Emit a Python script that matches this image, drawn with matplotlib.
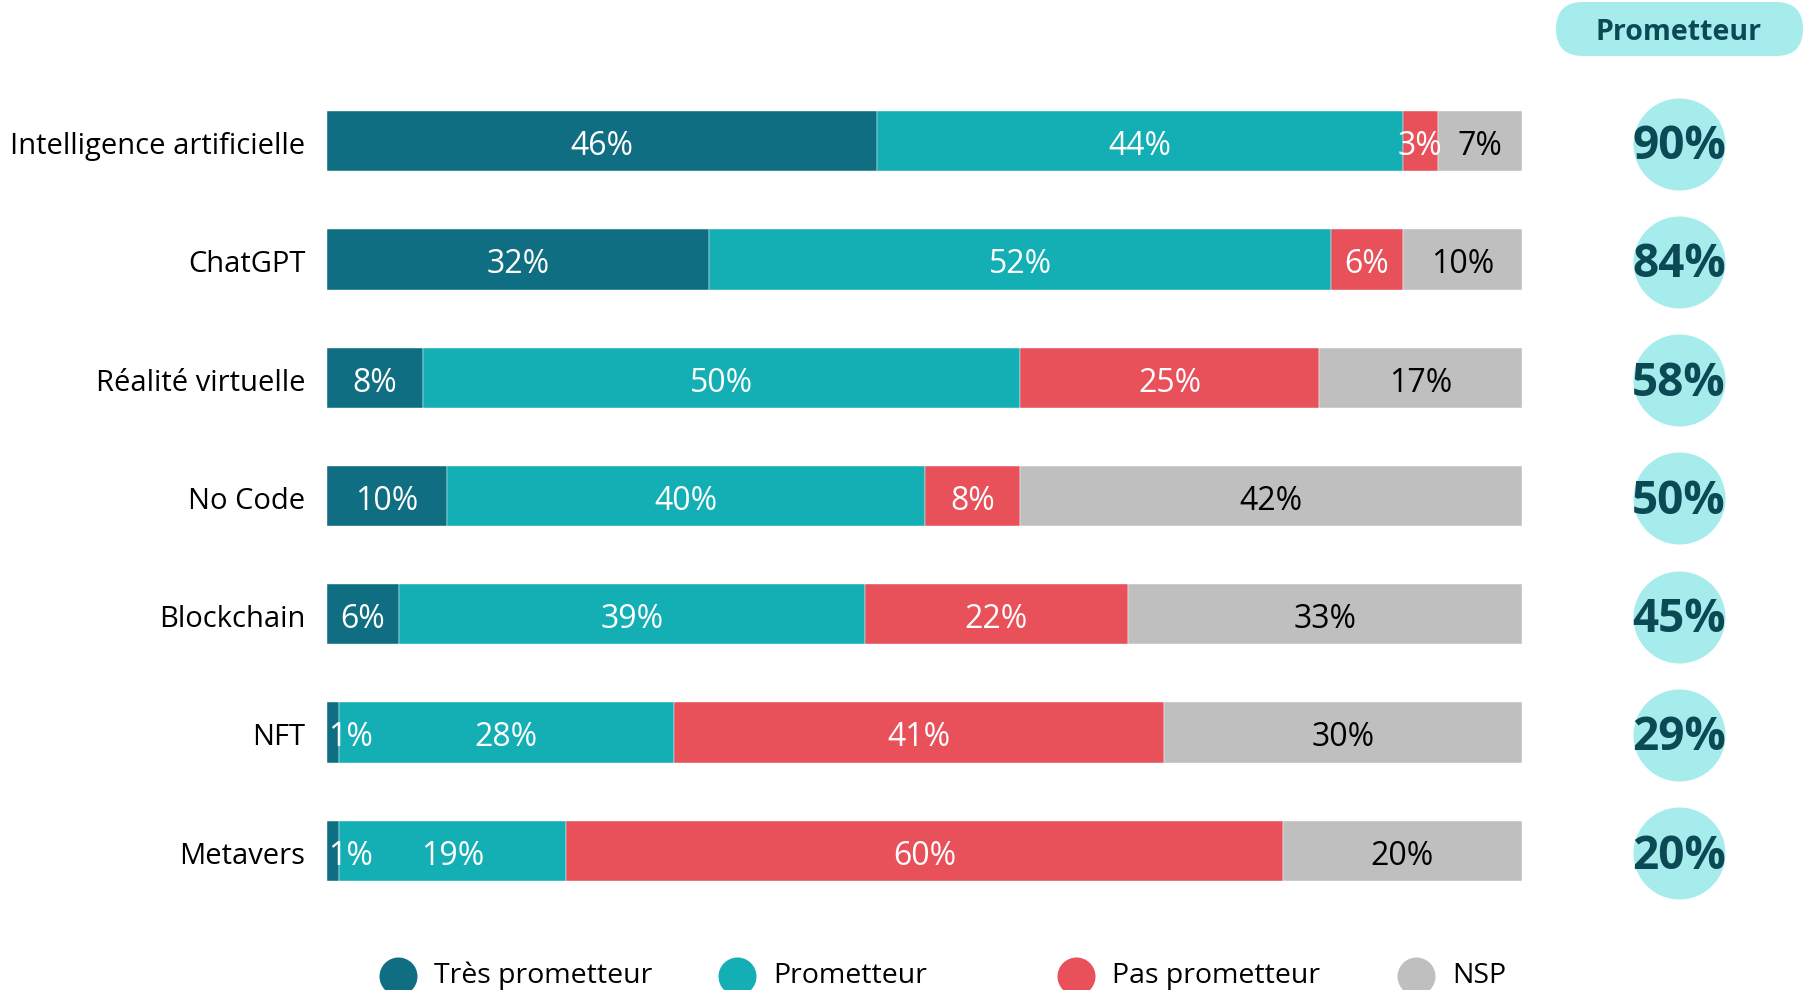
import matplotlib
matplotlib.use("Agg")
import matplotlib.pyplot as plt
from matplotlib.patches import FancyBboxPatch
import numpy as np

categories = ["Intelligence artificielle", "ChatGPT", "Réalité virtuelle", "No Code",
              "Blockchain", "NFT", "Metavers"]
tres_prometteur = [46, 32, 8, 10, 6, 1, 1]
prometteur = [44, 52, 50, 40, 39, 28, 19]
pas_prometteur = [3, 6, 25, 8, 22, 41, 60]
nsp = [7, 10, 17, 42, 33, 30, 20]
total_prometteur = [90, 84, 58, 50, 45, 29, 20]
series_names = ["Très prometteur", "Prometteur", "Pas prometteur", "NSP"]

colors = ["#106E82", "#14AFB5", "#E8505A", "#BFBFBF"]
text_colors = ["white", "white", "white", "black"]
circle_color = "#A6ECEC"
circle_text = "#0B4A55"

plt.rcParams["font.family"] = ["Open Sans", "DejaVu Sans"]

W, H = 1803, 990
fig = plt.figure(figsize=(W / 100, H / 100), dpi=100)
fig.patch.set_facecolor("white")

# overlay in pixel coordinates for the header pill
ax_px = fig.add_axes([0, 0, 1, 1])
ax_px.set_xlim(0, W)
ax_px.set_ylim(H, 0)
ax_px.axis("off")
pill = FancyBboxPatch((1556, 2), 1803 - 1556, 54,
                      boxstyle="round,pad=0,rounding_size=27",
                      facecolor=circle_color, edgecolor="none")
ax_px.add_patch(pill)
ax_px.text(1679, 32, "Prometteur", ha="center", va="center", fontsize=20.5,
           fontweight="bold", color=circle_text)

# main axes: x from bar start (327 px), rows at 141 + i*118.3 px
x0_px, x100_px = 327, 1522
unit_x = (x100_px - x0_px) / 100
top_px, bot_px = 82, 910
ax = fig.add_axes([x0_px / W, 1 - bot_px / H, (W - x0_px) / W, (bot_px - top_px) / H])
ax.set_xlim(0, (W - x0_px) / unit_x)
ax.set_ylim(6.5, -0.5)
ax.axis("off")
ax.patch.set_alpha(0)

y = np.arange(len(categories))
dy = 0.045  # text sits slightly below bar centre, as in the original
data = [tres_prometteur, prometteur, pas_prometteur, nsp]
left = np.zeros(len(categories))
for k, vals in enumerate(data):
    vals = np.array(vals, dtype=float)
    ax.barh(y, vals, left=left, height=0.51, color=colors[k], edgecolor="white",
            linewidth=0.3)
    for i, v in enumerate(vals):
        if v <= 1:
            ax.text(left[i] + 0.1, y[i] + dy, f"{int(v)}%", ha="left", va="center",
                    fontsize=23, color=text_colors[k])
        else:
            ax.text(left[i] + v / 2, y[i] + dy, f"{int(v)}%", ha="center", va="center",
                    fontsize=23, color=text_colors[k])
    left += vals

for i, cat in enumerate(categories):
    ax.text(-1.8, y[i] + dy, cat, ha="right", va="center", fontsize=21, color="black")

# circles with total "Prometteur"
cx = (1679 - x0_px) / unit_x
ax.scatter(np.full(len(categories), cx), y + 0.02, s=(92 * 0.72) ** 2, color=circle_color,
           clip_on=False, zorder=2, linewidths=0)
for i, v in enumerate(total_prometteur):
    ax.text(cx, y[i] + dy, f"{v}%", ha="center", va="center", fontsize=33,
            fontweight="bold", color=circle_text, zorder=3)

# legend
leg_y = (976 - top_px) / ((bot_px - top_px) / 7) - 0.5
leg_x_px = [398, 737, 1076, 1416]
for k, name in enumerate(series_names):
    lx = (leg_x_px[k] - x0_px) / unit_x
    ax.scatter([lx], [leg_y], s=(38 * 0.72) ** 2, color=colors[k], clip_on=False,
               linewidths=0)
    ax.text(lx + 3.0, leg_y, name, ha="left", va="center", fontsize=20.5, color="black")

fig.savefig("out.png", dpi=100, facecolor="white")
